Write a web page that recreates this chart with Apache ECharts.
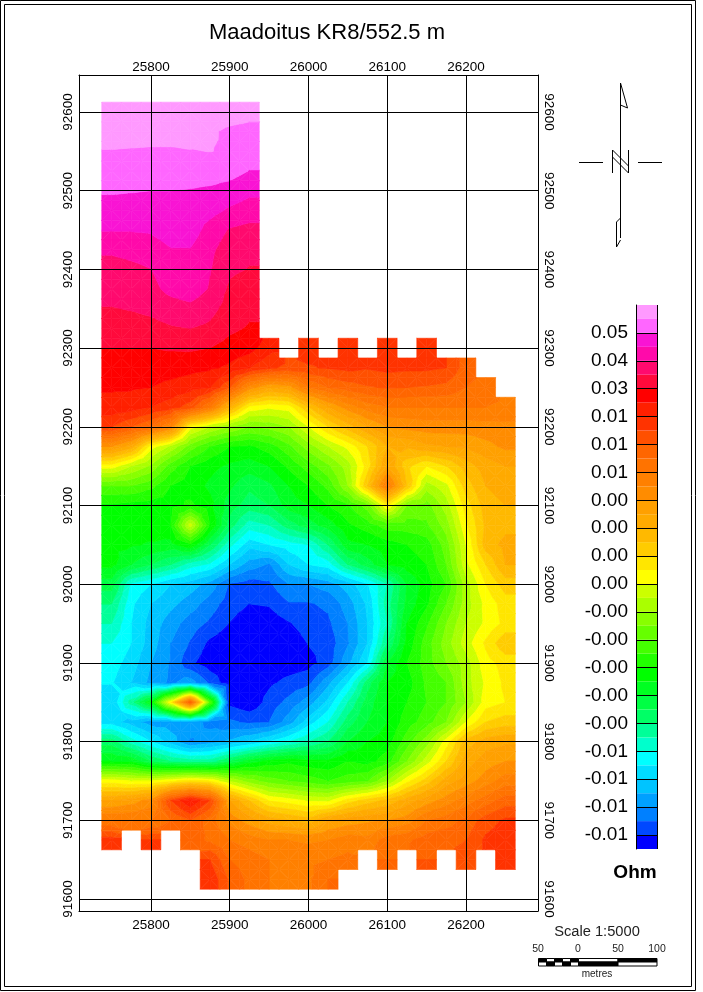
<!DOCTYPE html>
<html>
<head>
<meta charset="utf-8">
<title>Maadoitus KR8/552.5 m</title>
<style>
html, body { margin: 0; padding: 0; background: #fff; }
#chart { width: 703px; height: 992px; }
</style>
<script src="https://cdn.jsdelivr.net/npm/echarts@6/dist/echarts.min.js"></script>
</head>
<body>
<div id="chart"></div>
<script>
const _ = null
const eastings = [25750, 25775, 25800, 25825, 25850, 25875, 25900, 25925, 25950, 25975, 26000,
    26025, 26050, 26075, 26100, 26125, 26150, 26175, 26200, 26225, 26250]
const northings = [92600, 92575, 92550, 92525, 92500, 92475, 92450, 92425, 92400, 92375,
    92350, 92325, 92300, 92275, 92250, 92225, 92200, 92175, 92150, 92125,
    92100, 92075, 92050, 92025, 92000, 91975, 91950, 91925, 91900, 91875,
    91850, 91825, 91800, 91775, 91750, 91725, 91700, 91675, 91650, 91625]
// colour level read at each station, one row per northing (0 = bottom of the colour bar)
const levels = [
    [38.6, 38.6, 38.6, 38.6, 38.6, 38.6, 38.5, 38.3],
    [38.5, 38.5, 38.5, 38.5, 38.5, 38.15, 37.8, 37.7],
    [37.95, 37.9, 37.85, 37.85, 37.95, 38.02, 37.9, 37.5],
    [37.5, 37.5, 37.5, 37.5, 37.45, 37.45, 37.4, 36.97],
    [37.1, 37.05, 37, 37, 36.95, 36.85, 36.6, 36.2],
    [36.6, 36.6, 36.6, 36.65, 36.6, 36.35, 35.85, 35.6],
    [36.05, 36.05, 36.1, 36.4, 36.5, 35.6, 34.9, 34.65],
    [35.2, 35.4, 35.6, 35.95, 35.95, 35.2, 34.5, 34.2],
    [34.5, 34.7, 34.98, 35.6, 35.8, 35.05, 34.2, 33.95],
    [34.4, 34.5, 34.7, 35.3, 35.6, 34.9, 33.8, 33.4],
    [33.95, 34.05, 34.2, 34.5, 34.7, 34.3, 33.6, 33.2],
    [33.6, 33.6, 33.7, 33.9, 34, 33.8, 33.2, 32.9],
    [33, 33, 33, 33.1, 33.15, 33, 32.6, 32.4, 31.4, _, 30.6, _, 30.5, _, 30.5, _, 30.5],
    [32.5, 32.5, 32.5, 32.45, 32.3, 32.15, 31.8, 31, 30.2, 29.7, 29.9, 30.1, 30.3, 30.1, 30.3, 30.2, 30.2, 30, 28.5],
    [32.1, 32.1, 32, 31.7, 31.4, 31, 29, 25.5, 24, 24.5, 27, 28, 28.5, 28.9, 29.1, 29, 28.9, 28.7, 28, 27.6],
    [31.7, 31.5, 31, 30.5, 29.5, 27, 23, 19.7, 19.2, 19.5, 22, 24, 25.5, 26.5, 27, 27, 27, 27, 27, 27, 26.8],
    [30, 29, 28, 26, 19.5, 18, 17, 16, 16.3, 17, 19, 21, 22.5, 24, 25, 25.3, 25.5, 25.5, 25.5, 25.6, 25.7],
    [25, 23.5, 19.5, 17.8, 15.5, 14, 13, 12.8, 13.5, 14.7, 16.5, 18, 19.3, 21, 23, 23.2, 23.8, 24, 24.2, 24.7, 25.2],
    [19.5, 18, 16.8, 14.5, 13, 12.3, 11.8, 11.5, 12, 13.2, 14.5, 15.8, 17.5, 20.5, 24, 21.3, 20, 21, 22.5, 23.5, 24],
    [15, 15, 14.3, 13, 12.5, 11.8, 11.2, 10.2, 10.8, 12, 13, 14.3, 17, 22, 27, 22, 17.5, 18.7, 21.5, 23, 23.5],
    [12.8, 12.6, 12.5, 12.6, 13.2, 12.3, 10.5, 9.5, 10, 11.5, 12, 13, 13.8, 15.5, 20, 16, 15.5, 17.5, 20.5, 22.5, 23],
    [12.3, 12.3, 12.5, 13, 18.5, 13, 9.5, 7.5, 8, 9.5, 10.5, 11.5, 12.8, 13.5, 14.5, 14.5, 14.8, 16.5, 19.8, 22.2, 22.7],
    [12.2, 12.1, 11.9, 11.6, 12.8, 10, 7.3, 5.4, 6, 6.5, 7, 9, 11.7, 12, 12.5, 13, 13.5, 15.5, 19, 22.5, 23.3],
    [12.3, 11, 10, 9, 7.5, 6.8, 5, 3.5, 2.9, 5, 6, 6.5, 9, 10.5, 12, 12.5, 13, 15, 18.7, 21, 23],
    [10.5, 6.8, 6, 5, 4.5, 3.6, 1.9, 1.5, 1.8, 3, 3, 3.5, 4.5, 5.9, 8, 11, 12.5, 14, 17.5, 20, 21.5],
    [9, 6.2, 5, 4.3, 3.5, 2.5, 1.5, 1, 1.1, 1.9, 1.9, 2.2, 3.5, 5.2, 8.5, 11.3, 12.8, 15, 17.5, 19.3, 20.5],
    [8, 6, 4.6, 3.5, 2.5, 1.8, 0.95, 0.3, 0.4, 0.9, 1.5, 1.8, 3, 5, 8, 12, 13.8, 16, 18, 19.2, 20.3],
    [7, 6, 4.5, 3, 1.9, 0.75, 0.3, 0.1, 0.1, 0.3, 1.05, 1.4, 2.9, 5, 9, 12.3, 14.5, 16.5, 18.5, 20.2, 21.8],
    [6.5, 5.5, 4, 2.9, 1.2, 0.4, 0.2, 0.1, 0.2, 0.4, 0.6, 1.5, 3.7, 6, 11, 13, 14.5, 16, 17.5, 19.6, 20.4],
    [6.1, 5, 3.7, 2.8, 3.5, 1.8, 0.3, 0.2, 0.8, 1.3, 1.7, 3.7, 6, 9.5, 12, 12.5, 14.2, 15, 17.5, 19.2, 20.2],
    [5, 8.5, 12, 20, 29, 15, 0.7, 0.2, 1.4, 2.3, 3.5, 5.3, 8, 10.5, 12, 13, 14, 15, 17, 19.5, 20],
    [5.5, 4.5, 3.5, 3.5, 3.5, 2.7, 2.2, 1.8, 2, 3.5, 5.5, 7, 9.5, 11, 12, 13.5, 14.5, 16, 19, 21, 21.5],
    [9.5, 7.5, 6, 4.5, 2.9, 3.5, 4.2, 5, 6, 7, 8, 9, 11, 12, 12.5, 14.5, 16.5, 19.5, 22.5, 23.5, 23.8],
    [12, 11.8, 10, 9, 8.5, 8.5, 10, 11.5, 12.3, 12.7, 12.3, 12.2, 13, 12.6, 13.5, 16, 18.5, 21, 23.5, 24.5, 25],
    [19.5, 19, 19, 19.8, 20.5, 20, 18, 16.5, 15.5, 15, 14.5, 14, 14.5, 15, 17, 19.7, 21.5, 23.5, 24.5, 25.5, 26.5],
    [24, 24.5, 25.5, 30, 32, 30, 24, 22, 20, 19.5, 18.9, 18.8, 20.5, 21.5, 22.3, 23.5, 24.5, 25.5, 26.5, 27.5, 28.5],
    [27, 27, 27, 28, 29, 27.5, 25.7, 24.5, 23.5, 23, 22.5, 24, 24.5, 24.8, 25, 25.5, 27, 27.5, 28.3, 29.5, 30.2],
    [30.5, _, 30, _, 28.5, 27.8, 27, 26.5, 26, 26, 25.8, 26, 26.5, 26.3, 27.5, 27.8, 28.5, 28.7, 29, 30.2, 30.6],
    [_, _, _, _, _, 30, 28, 27.5, 27, 26.8, 26.8, 27, 27.3, _, 28, _, 29, _, 29.5, _, 30.6],
    [_, _, _, _, _, 30.8, 28.8, 27.7, 27, 26.8, 26.8, 28]
]
const xTicks = [25800, 25900, 26000, 26100, 26200]
const yTicks = [91600, 91700, 91800, 91900, 92000, 92100, 92200, 92300, 92400, 92500, 92600]
// bottom of the bar first
const bandColors = ['#0000ff', '#0048ff', '#0080ff', '#00a0ff', '#00c4ff', '#00ddff', '#00ffff', '#00ffcc',
    '#00ff99', '#00ff66', '#00ff44', '#00ff22', '#00ff00', '#22ff00', '#44ff00', '#66ff00',
    '#88ff00', '#aaff00', '#ccff00', '#ffff00', '#ffe600', '#ffcc00', '#ffb900', '#ffaa00',
    '#ffa000', '#ff8c00', '#ff8000', '#ff7300', '#ff6600', '#ff5000', '#ff3300', '#ff2000',
    '#ff0000', '#ff0a3c', '#ff0a6e', '#ff0aaa', '#f914d4', '#ff66ff', '#ff99ff']
const barTicks = [1, 3, 5, 7, 9, 11, 13, 15, 17, 19, 21, 23, 25, 27, 29, 31, 33, 35, 37]
const barLabels = ['-0.01', '-0.01', '-0.01', '-0.01', '-0.00', '-0.00', '-0.00', '-0.00', '-0.00',
    '0.00', '0.00', '0.00', '0.00', '0.01', '0.01', '0.01', '0.03', '0.04', '0.05']

const font = 'Liberation Sans'
const halfCell = 12.5

const stations = []
levels.forEach((row, j) => {
    row.forEach((v, i) => {
        if (v !== null) stations.push([eastings[i], northings[j], v, i, j])
    })
})

function levelAt(i, j) {
    const row = levels[j]
    if (!row || row[i] === undefined) return null
    return row[i]
}

// keep the part of a triangle between two levels (points are [x, y, level])
function clipAbove(poly, limit, sign) {
    const out = []
    for (let k = 0; k < poly.length; k++) {
        const a = poly[k]
        const b = poly[(k + 1) % poly.length]
        const da = (a[2] - limit) * sign
        const db = (b[2] - limit) * sign
        if (da >= 0) out.push(a)
        if ((da >= 0) !== (db >= 0)) {
            const t = da / (da - db)
            out.push([a[0] + (b[0] - a[0]) * t, a[1] + (b[1] - a[1]) * t, limit])
        }
    }
    return out
}

function bandPolygons(tri, api, children) {
    const vals = tri.map(p => p[2])
    const lo = Math.max(0, Math.floor(Math.min(...vals)))
    const hi = Math.min(bandColors.length - 1, Math.floor(Math.max(...vals)))
    for (let b = lo; b <= hi; b++) {
        let poly = clipAbove(tri, b, 1)
        if (poly.length) poly = clipAbove(poly, b + 1, -1)
        if (poly.length < 3) continue
        children.push({
            type: 'polygon',
            shape: { points: poly.map(p => api.coord([p[0], p[1]])) },
            style: { fill: bandColors[b], stroke: bandColors[b], lineWidth: 0.6 }
        })
    }
}

function renderStation(params, api) {
    const x = api.value(0)
    const y = api.value(1)
    const v = api.value(2)
    const i = api.value(3)
    const j = api.value(4)
    const children = []
    // each station owns a 25 m cell, split in four quarters towards its neighbours
    ;[-1, 1].forEach(di => {
        ;[-1, 1].forEach(dj => {
            const vx = levelAt(i + di, j)
            const vy = levelAt(i, j - dj)
            const vd = levelAt(i + di, j - dj)
            const ex = vx === null ? v : (v + vx) / 2
            const ey = vy === null ? v : (v + vy) / 2
            const around = [v, vx, vy, vd].filter(n => n !== null)
            const ed = around.reduce((s, n) => s + n, 0) / around.length
            const c = [x, y, v]
            const e = [x + di * halfCell, y, ex]
            const s = [x, y + dj * halfCell, ey]
            const d = [x + di * halfCell, y + dj * halfCell, ed]
            bandPolygons([c, e, d], api, children)
            bandPolygons([c, d, s], api, children)
        })
    })
    return { type: 'group', children: children }
}

function renderBand(params, api) {
    const b = api.value(0)
    const p0 = api.coord([0, b])
    const p1 = api.coord([1, b + 1])
    return {
        type: 'rect',
        shape: { x: p0[0], y: p1[1], width: p1[0] - p0[0], height: p0[1] - p1[1] },
        style: { fill: bandColors[b] }
    }
}

function line(x1, y1, x2, y2) {
    return { type: 'line', shape: { x1, y1, x2, y2 }, style: { stroke: '#000', lineWidth: 1 } }
}

function label(text, x, y, size, color) {
    return {
        type: 'text', x, y,
        style: { text, fontFamily: font, fontSize: size, fill: color || '#000', align: 'center', verticalAlign: 'middle' }
    }
}

function box(x, y, width, height, fill) {
    return { type: 'rect', shape: { x, y, width, height }, style: { fill, stroke: '#000', lineWidth: 1 } }
}

function mapXAxis(position, margin) {
    return {
        type: 'value', gridIndex: 0, position, min: 25708.6, max: 26291.4, z: 5,
        axisLine: { show: true, onZero: false, lineStyle: { color: '#000' } },
        axisTick: { show: false, customValues: xTicks },
        axisLabel: { show: true, customValues: xTicks, color: '#000', fontFamily: font, fontSize: 13.5, margin, formatter: v => String(v) },
        splitLine: { show: true, lineStyle: { color: '#000', width: 1 } }
    }
}

function mapYAxis(position, rotate, margin) {
    return {
        type: 'value', gridIndex: 0, position, min: 91584.75, max: 92647, z: 5,
        axisLine: { show: true, onZero: false, lineStyle: { color: '#000' } },
        axisTick: { show: false, customValues: yTicks },
        axisLabel: { show: true, customValues: yTicks, rotate, color: '#000', fontFamily: font, fontSize: 13.5, margin, formatter: v => String(v) },
        splitLine: { show: true, lineStyle: { color: '#000', width: 1 } }
    }
}

const chart = echarts.init(document.getElementById('chart'), null, { renderer: 'canvas' })
chart.setOption({
    animation: false,
    backgroundColor: '#fff',
    title: {
        text: 'Maadoitus KR8/552.5 m', left: 322, top: 17, textAlign: 'center',
        textStyle: { color: '#000', fontFamily: font, fontSize: 22, fontWeight: 'normal' }
    },
    grid: [
        { left: 79, top: 75, width: 459, height: 836, show: false },
        { left: 636, top: 305, width: 21, height: 544, show: false }
    ],
    xAxis: [
        mapXAxis('bottom', 7),
        Object.assign(mapXAxis('top', 1), { splitLine: { show: false } }),
        { type: 'value', gridIndex: 1, min: 0, max: 1, show: false, splitLine: { show: false } }
    ],
    yAxis: [
        mapYAxis('left', 90, 4),
        Object.assign(mapYAxis('right', -90, 4), { splitLine: { show: false } }),
        {
            type: 'value', gridIndex: 1, position: 'left', min: 0, max: 39, z: 5,
            axisLine: { show: true, onZero: false, lineStyle: { color: '#000' } },
            axisTick: { show: false, customValues: barTicks },
            axisLabel: {
                show: true, customValues: barTicks, color: '#000', fontFamily: font, fontSize: 19, margin: 8,
                padding: [3, 0, 0, 0],
                formatter: v => barLabels[barTicks.indexOf(v)]
            },
            splitLine: { show: true, lineStyle: { color: '#000', width: 1 } }
        }
    ],
    series: [
        {
            type: 'custom', xAxisIndex: 0, yAxisIndex: 0, silent: true, clip: true,
            renderItem: renderStation, data: stations,
            encode: { x: 0, y: 1 }
        },
        {
            type: 'custom', xAxisIndex: 2, yAxisIndex: 2, silent: true,
            renderItem: renderBand, data: bandColors.map((c, b) => [b]),
            encode: { y: 0 }
        }
    ],
    graphic: [
        // page frame
        { type: 'rect', shape: { x: 0.5, y: 0.5, width: 695, height: 990 }, style: { fill: 'none', stroke: '#000', lineWidth: 1 } },
        { type: 'rect', shape: { x: 4.5, y: 4.5, width: 687, height: 982 }, style: { fill: 'none', stroke: '#000', lineWidth: 1 } },
        // right edge of the colour bar
        line(657.5, 305, 657.5, 849),
        line(636, 305.5, 657, 305.5),
        line(636, 848.5, 657, 848.5),
        { type: 'text', x: 635, y: 873, style: { text: 'Ohm', fontFamily: font, fontSize: 19, fontWeight: 'bold', fill: '#000', align: 'center', verticalAlign: 'middle' } },
        // north arrow
        line(620.5, 83, 620.5, 238),
        { type: 'polyline', shape: { points: [[620.5, 83], [627.5, 108], [620.5, 105]] }, style: { stroke: '#000', fill: 'none', lineWidth: 1 } },
        { type: 'polyline', shape: { points: [[620.5, 218], [616.5, 222], [616.5, 247], [620.5, 240]] }, style: { stroke: '#000', fill: 'none', lineWidth: 1 } },
        line(579, 162.5, 603, 162.5),
        line(638, 162.5, 662, 162.5),
        line(612.5, 150, 612.5, 173),
        line(628.5, 150, 628.5, 173),
        line(612.5, 150, 628.5, 166),
        line(612.5, 157, 628.5, 173),
        // scale bar
        label('Scale 1:5000', 597, 932, 14.7, '#222'),
        label('50', 538, 949, 10.5, '#222'),
        label('0', 578, 949, 10.5, '#222'),
        label('50', 618, 949, 10.5, '#222'),
        label('100', 657, 949, 10.5, '#222'),
        label('metres', 597, 974, 10, '#222'),
        box(538.5, 958.5, 8, 3.5, '#000'), box(546.5, 958.5, 8, 3.5, '#fff'),
        box(554.5, 958.5, 8, 3.5, '#000'), box(562.5, 958.5, 8, 3.5, '#fff'),
        box(570.5, 958.5, 8, 3.5, '#000'),
        box(538.5, 962, 8, 4, '#fff'), box(546.5, 962, 8, 4, '#000'),
        box(554.5, 962, 8, 4, '#fff'), box(562.5, 962, 8, 4, '#000'),
        box(570.5, 962, 8, 4, '#fff'),
        box(578.5, 958.5, 39.5, 3.5, '#fff'), box(578.5, 962, 39.5, 4, '#000'),
        box(618, 958.5, 39, 3.5, '#000'), box(618, 962, 39, 4, '#fff')
    ]
})
</script>
</body>
</html>
